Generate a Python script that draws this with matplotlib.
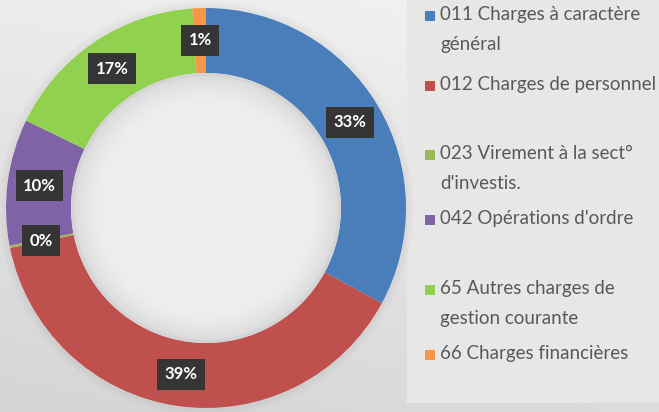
import numpy as np
import matplotlib
matplotlib.use("Agg")
import matplotlib.pyplot as plt
from matplotlib.patches import Rectangle, Circle

# ---- data ----
categories = ["011 Charges à caractère\ngénéral",
              "012 Charges de personnel",
              "023 Virement à la sect°\nd'investis.",
              "042 Opérations d'ordre",
              "65 Autres charges de\ngestion courante",
              "66 Charges financières"]
values = [32.9, 38.9, 0.2, 10.2, 16.7, 1.1]
pct_labels = ["33%", "39%", "0%", "10%", "17%", "1%"]
colors = ["#4a7ebb", "#c0504d", "#9bbb59", "#7f63a6", "#92d050", "#f79646"]

W, H, DPI = 659, 412, 100
fig = plt.figure(figsize=(W / DPI, H / DPI), dpi=DPI)
ax = fig.add_axes([0, 0, 1, 1])

wedges, _ = ax.pie(values, colors=colors, startangle=90, counterclock=False,
                   radius=1.0, wedgeprops=dict(width=0.325, edgecolor="none"))
for w in wedges:
    w.set_zorder(2)

R_PX = 200.0
cx, cy = 206.0, 208.0  # pixel center (from top-left)
ax.set_xlim(-cx / R_PX, (W - cx) / R_PX)
ax.set_ylim(-(H - cy) / R_PX, cy / R_PX)
ax.set_aspect("equal")
ax.axis("off")

# background gradient
x0, x1 = ax.get_xlim()
y0, y1 = ax.get_ylim()
yy, xx = np.mgrid[0:1:200j, 0:1:300j]
g = 0.955 - 0.12 * (yy * 0.75 + (1 - xx) * 0.25)
ax.imshow(np.dstack([g, g, g]), extent=[x0, x1, y0, y1], origin="upper",
          zorder=0, aspect="auto", interpolation="bilinear")
ax.set_xlim(x0, x1)
ax.set_ylim(y0, y1)

# legend box
lx = (407 - cx) / R_PX
lw = (W - 407) / R_PX
ly = -(403 - cy) / R_PX
ax.add_patch(Rectangle((lx, ly), lw, y1 - ly, facecolor="#e7e7e7",
                       edgecolor="none", zorder=1))

# shadow halo around ring
for k in range(10):
    r = 1.0 + 0.004 * (k + 1)
    ax.add_patch(Circle((0, 0), r, facecolor="none", edgecolor="#000000",
                        lw=1.2, alpha=0.025 * (10 - k) / 10, zorder=1.5))

# hole shading
rin = 0.675
n = 40
for k in range(n):
    r = rin * (1 - k / n)
    t = k / n
    c = 0.83 + 0.10 * min(1.0, t * 5) ** 0.5
    ax.add_patch(Circle((0, 0), r, facecolor=(c, c, c), edgecolor="none", zorder=3))

# percentage labels
for w, lab in zip(wedges, pct_labels):
    ang = np.deg2rad((w.theta1 + w.theta2) / 2)
    r = 0.84
    ax.text(r * np.cos(ang), r * np.sin(ang), lab, ha="center", va="center",
            color="white", fontsize=12, fontweight="bold", family="Lato",
            zorder=5,
            bbox=dict(boxstyle="square,pad=0.45", facecolor="#353535",
                      edgecolor="none"))

# legend entries
entry_y = [16, 86, 155, 220, 290, 355]
for lab, col, ypx in zip(categories, colors, entry_y):
    fx = 425 / W
    fy = 1 - (ypx + 5) / H
    fig.patches.append(Rectangle((fx, fy), 10 / W, 10 / H, facecolor=col,
                                 edgecolor="none", transform=fig.transFigure,
                                 figure=fig, zorder=6))
    fig.text(440 / W, 1 - (ypx - 10) / H, lab, ha="left", va="top",
             color="#595959", fontsize=13.5, family="Lato",
             linespacing=1.9, zorder=6)

fig.savefig("out.png", dpi=DPI)
